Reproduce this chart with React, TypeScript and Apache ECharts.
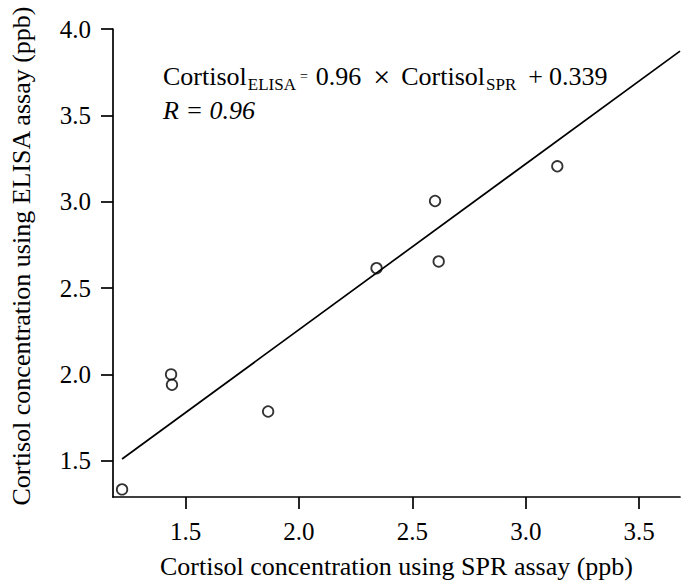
import React, { useEffect, useRef } from "react";
import * as echarts from "echarts";

const sprValues = [1.22, 1.436, 1.44, 1.864, 2.342, 2.6, 2.616, 3.139];
const elisaValues = [1.334, 2.0, 1.94, 1.785, 2.615, 3.004, 2.654, 3.205];
const fitSlope = 0.96;
const fitIntercept = 0.339;
const xTicks = [1.5, 2.0, 2.5, 3.0, 3.5];
const yTicks = [1.5, 2.0, 2.5, 3.0, 3.5, 4.0];
const xRange = [1.18, 3.68];
const yRange = [1.29, 4.0];
const xTitle = "Cortisol concentration using SPR assay (ppb)";
const yTitle = "Cortisol concentration using ELISA assay (ppb)";

const FONT = '"Liberation Serif", "Times New Roman", serif';

export default function App() {
  const ref = useRef<HTMLDivElement>(null);
  useEffect(() => {
    if (!ref.current) return;
    const chart = echarts.init(ref.current, null, { renderer: "svg" });
    const points = sprValues.map((x, i) => [x, elisaValues[i]]);
    const fitStart = Math.min(...sprValues);
    const fitEnd = xRange[1];
    const fitLine = [
      [fitStart, fitSlope * fitStart + fitIntercept],
      [fitEnd, fitSlope * fitEnd + fitIntercept],
    ];
    const axisCommon = {
      type: "value" as const,
      splitLine: { show: false },
      axisLine: { show: true, lineStyle: { color: "#000", width: 1.7 } },
      axisTick: { show: true, length: 12, lineStyle: { color: "#000", width: 1.7 } },
      nameLocation: "middle" as const,
    };
    const labelStyle = {
      formatter: (v: number) => v.toFixed(1),
      fontFamily: FONT,
      fontSize: 25,
      color: "#000",
      margin: 22,
    };
    chart.setOption({
      animation: false,
      backgroundColor: "#fff",
      grid: { left: 107, right: 6, top: 29, bottom: 89, containLabel: false },
      xAxis: {
        ...axisCommon,
        min: xRange[0],
        max: xRange[1],
        name: xTitle,
        nameGap: 56,
        nameTextStyle: { fontFamily: FONT, fontSize: 26, color: "#000" },
        axisTick: { ...axisCommon.axisTick, customValues: xTicks },
        axisLabel: { ...labelStyle, customValues: xTicks },
      },
      yAxis: {
        ...axisCommon,
        min: yRange[0],
        max: yRange[1],
        name: yTitle,
        nameGap: 79,
        nameTextStyle: {
          fontFamily: FONT,
          fontSize: 26,
          color: "#000",
          padding: [0, 0, 0, 14],
        },
        axisTick: { ...axisCommon.axisTick, customValues: yTicks },
        axisLabel: { ...labelStyle, customValues: yTicks },
      },
      graphic: [
        {
          type: "text",
          left: 163,
          top: 61,
          style: {
            text:
              "{m|Cortisol}{s1|ELISA}{e|=}{n|0.96}{x|×}{c|Cortisol}{s2|SPR}{p|+}{k|0.339}\n{i|R = 0.96}",
            fill: "#000",
            fontFamily: FONT,
            rich: {
              m: { fontFamily: FONT, fontSize: 26, lineHeight: 34, fill: "#000" },
              s1: {
                fontFamily: FONT,
                fontSize: 17,
                lineHeight: 14,
                verticalAlign: "bottom",
                fill: "#000",
                padding: [0, 0, 0, 1],
              },
              e: {
                fontFamily: FONT,
                fontSize: 14,
                lineHeight: 34,
                fill: "#000",
                padding: [0, 0, 0, 4],
              },
              n: {
                fontFamily: FONT,
                fontSize: 26,
                lineHeight: 34,
                fill: "#000",
                padding: [0, 0, 0, 8],
              },
              x: {
                fontFamily: FONT,
                fontSize: 30,
                lineHeight: 34,
                fill: "#000",
                padding: [0, 0, 0, 12],
              },
              c: {
                fontFamily: FONT,
                fontSize: 26,
                lineHeight: 34,
                fill: "#000",
                padding: [0, 0, 0, 11],
              },
              s2: {
                fontFamily: FONT,
                fontSize: 17,
                lineHeight: 14,
                verticalAlign: "bottom",
                fill: "#000",
                padding: [0, 0, 0, 1],
              },
              p: {
                fontFamily: FONT,
                fontSize: 26,
                lineHeight: 34,
                fill: "#000",
                padding: [0, 0, 0, 12],
              },
              k: {
                fontFamily: FONT,
                fontSize: 26,
                lineHeight: 34,
                fill: "#000",
                padding: [0, 0, 0, 6],
              },
              i: {
                fontFamily: FONT,
                fontSize: 26,
                fontStyle: "italic",
                lineHeight: 34,
                fill: "#000",
              },
            },
          },
        },
      ],
      series: [
        {
          type: "line",
          data: fitLine,
          showSymbol: false,
          symbol: "none",
          lineStyle: { color: "#000", width: 1.7 },
          z: 2,
        },
        {
          type: "scatter",
          data: points,
          symbol: "circle",
          symbolSize: 10.5,
          itemStyle: { color: "rgba(0,0,0,0)", borderColor: "#000", borderWidth: 1.8 },
          z: 3,
        },
      ],
    });
    return () => chart.dispose();
  }, []);
  return (
    <div
      ref={ref}
      style={{ position: "fixed", left: 0, top: 0, width: 686, height: 586, background: "#fff" }}
    />
  );
}
